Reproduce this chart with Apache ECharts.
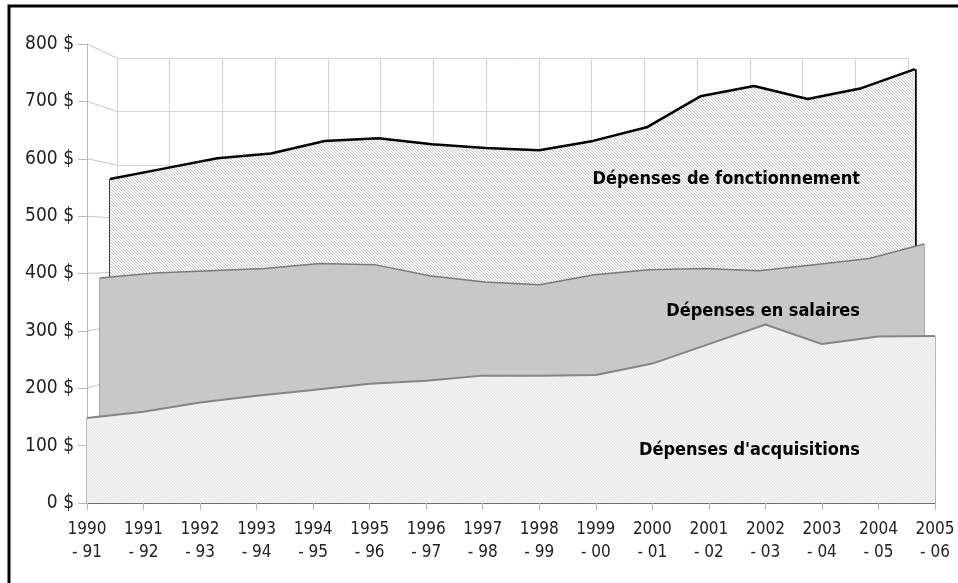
<!DOCTYPE html>
<html>
<head>
<meta charset="utf-8">
<script src="https://cdn.jsdelivr.net/npm/echarts@6/dist/echarts.min.js"></script>
<style>
  html, body { margin: 0; padding: 0; background: #fff; }
  #chart { width: 958px; height: 583px; }
</style>
</head>
<body>
<div id="chart"></div>
<script>
// données
const categories = ['1990\n- 91', '1991\n- 92', '1992\n- 93', '1993\n- 94', '1994\n- 95', '1995\n- 96',
    '1996\n- 97', '1997\n- 98', '1998\n- 99', '1999\n- 00', '2000\n- 01', '2001\n- 02',
    '2002\n- 03', '2003\n- 04', '2004\n- 05', '2005\n- 06'];
const fonctionnement = [572, 591, 610, 619, 642, 647, 636, 629, 625, 642, 667, 724, 743, 719, 739, 774];
const salaires = [391, 400, 404, 408, 417, 415, 395, 384, 379, 397, 406, 408, 404, 415, 426, 452];
const acquisitions = [148, 159, 175, 187, 197, 208, 213, 222, 222, 223, 243, 277, 311, 277, 290, 291];
const yTicks = [0, 100, 200, 300, 400, 500, 600, 700, 800];

const FONT = '"DejaVu Sans Condensed", "DejaVu Sans", sans-serif';

// motif hachuré (diagonales) pour remplir les aires
function hatch(bg, fg, size) {
    let c = document.createElement('canvas');
    c.width = size;
    c.height = size;
    let ctx = c.getContext('2d');
    ctx.fillStyle = bg;
    ctx.fillRect(0, 0, size, size);
    ctx.fillStyle = fg;
    for (let i = 0; i < size; i++) {
        ctx.fillRect(i, i, 1, 1);
    }
    return c;
}

// les 4 grilles simulent la profondeur 3D : mur du fond, puis 3 séries
const grids = [
    { left: 117, right: 50, top: 58, bottom: 97 },   // mur du fond
    { left: 110, right: 43, top: 55, bottom: 93 },   // fonctionnement
    { left: 100, right: 34, top: 50, bottom: 87 },   // salaires
    { left: 87, right: 23, top: 44, bottom: 80 }     // acquisitions (avant)
];

function hiddenX(i, split) {
    return {
        type: 'category', gridIndex: i, data: categories, boundaryGap: false,
        axisLine: { show: false }, axisTick: { show: false }, axisLabel: { show: false },
        splitLine: { show: split, lineStyle: { color: '#d4d4d4', width: 1 } }
    };
}
function hiddenY(i, split) {
    return {
        type: 'value', gridIndex: i, min: 0, max: 800, interval: 100,
        axisLine: { show: false }, axisTick: { show: false }, axisLabel: { show: false },
        splitLine: { show: split, lineStyle: { color: '#d4d4d4', width: 1 } }
    };
}

// arêtes verticales gauche/droite de chaque aire
function edges(data, color, width, z) {
    let last = data.length - 1;
    return {
        silent: true,
        z: z,
        symbol: 'none',
        label: { show: false },
        lineStyle: { color: color, width: width, type: 'solid' },
        data: [
            [{ coord: [categories[0], 0] }, { coord: [categories[0], data[0]] }],
            [{ coord: [categories[last], 0] }, { coord: [categories[last], data[last]] }]
        ]
    };
}

var myChart = echarts.init(document.getElementById('chart'));
var option = {
    animation: false,
    backgroundColor: '#fff',
    grid: grids,
    xAxis: [
        hiddenX(0, true),
        hiddenX(1, false),
        hiddenX(2, false),
        {
            type: 'category', gridIndex: 3, data: categories, boundaryGap: false,
            axisLine: { show: true, lineStyle: { color: '#707070', width: 2 } },
            axisTick: { show: true, length: 7, lineStyle: { color: '#b4b4b4', width: 1 } },
            axisLabel: { color: '#222', fontFamily: FONT, fontSize: 17, lineHeight: 23, margin: 15, interval: 0 },
            splitLine: { show: false }
        }
    ],
    yAxis: [
        hiddenY(0, true),
        hiddenY(1, false),
        hiddenY(2, false),
        {
            type: 'value', gridIndex: 3, min: 0, max: 800, interval: 100,
            axisLine: { show: true, lineStyle: { color: '#b8b8b8', width: 1 } },
            axisTick: { show: true, length: 9, lineStyle: { color: '#b8b8b8' } },
            axisLabel: { color: '#222', fontFamily: FONT, fontSize: 19, margin: 13, formatter: '{value} $' },
            splitLine: { show: false }
        }
    ],
    series: [
        {
            name: 'Dépenses de fonctionnement',
            type: 'line', xAxisIndex: 1, yAxisIndex: 1, z: 2,
            data: fonctionnement, symbol: 'none',
            lineStyle: { color: '#000', width: 2.5 },
            areaStyle: { color: { image: hatch('#ffffff', '#c2c2c2', 3), repeat: 'repeat' }, opacity: 1 },
            markLine: edges(fonctionnement, '#000', 2.5, 2)
        },
        {
            name: 'Dépenses en salaires',
            type: 'line', xAxisIndex: 2, yAxisIndex: 2, z: 4,
            data: salaires, symbol: 'none',
            lineStyle: { color: '#7a7a7a', width: 1.5 },
            areaStyle: { color: '#c8c8c8', opacity: 1 },
            markLine: edges(salaires, '#8a8a8a', 1.5, 4)
        },
        {
            name: "Dépenses d'acquisitions",
            type: 'line', xAxisIndex: 3, yAxisIndex: 3, z: 6,
            data: acquisitions, symbol: 'none',
            lineStyle: { color: '#858585', width: 2 },
            areaStyle: { color: { image: hatch('#f3f3f3', '#e6e6e6', 3), repeat: 'repeat' }, opacity: 1 },
            markLine: edges(acquisitions, '#a0a0a0', 1.5, 6)
        }
    ]
};
myChart.setOption(option);

// lignes du mur latéral (relient l'axe avant au mur du fond) + étiquettes + cadre
let graphics = [];
yTicks.forEach(function(v) {
    let front = myChart.convertToPixel({ xAxisIndex: 3, yAxisIndex: 3 }, [0, v]);
    let back = myChart.convertToPixel({ xAxisIndex: 0, yAxisIndex: 0 }, [0, v]);
    graphics.push({
        type: 'line', z: 0, silent: true,
        shape: { x1: front[0], y1: front[1], x2: back[0], y2: back[1] },
        style: { stroke: '#c8c8c8', lineWidth: 1 }
    });
});
const labels = [
    { text: 'Dépenses de fonctionnement', y: 179 },
    { text: 'Dépenses en salaires', y: 311 },
    { text: "Dépenses d'acquisitions", y: 450 }
];
labels.forEach(function(l) {
    graphics.push({
        type: 'text', z: 100, silent: true, x: 860, y: l.y,
        style: { text: l.text, fill: '#000', font: 'bold 18px ' + FONT, align: 'right', verticalAlign: 'middle' }
    });
});
graphics.push({
    type: 'rect', z: 100, silent: true,
    shape: { x: 9, y: 6, width: 980, height: 620 },
    style: { fill: null, stroke: '#000', lineWidth: 3 }
});
myChart.setOption({ graphic: graphics });
</script>
</body>
</html>
